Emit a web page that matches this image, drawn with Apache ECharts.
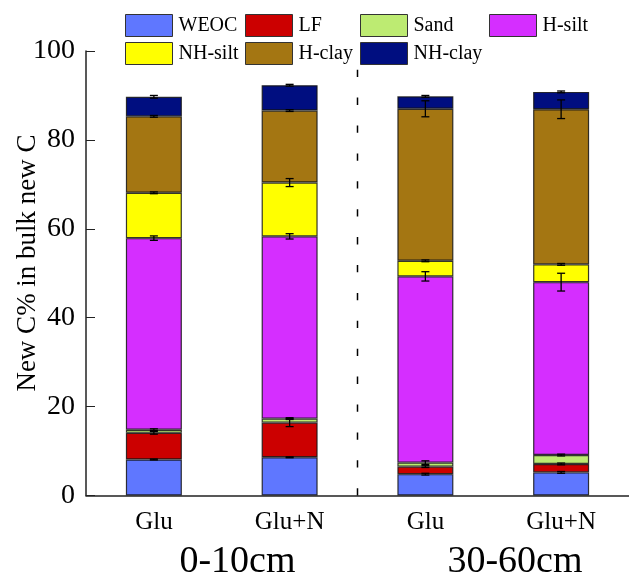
<!DOCTYPE html>
<html>
<head>
<meta charset="utf-8">
<script src="https://cdn.jsdelivr.net/npm/echarts@6/dist/echarts.min.js"></script>
<style>html,body{margin:0;padding:0;background:#fff}#c{width:629px;height:577px}</style>
</head>
<body>
<div id="c"></div>
<script>
// ---- data ----
var categories = ['Glu', 'Glu+N', 'Glu', 'Glu+N'];
var depthLabels = ['0-10cm', '30-60cm'];
var seriesNames = ['WEOC', 'LF', 'Sand', 'H-silt', 'NH-silt', 'H-clay', 'NH-clay'];
var WEOC    = [8.1, 8.6, 4.8, 5.2];
var LF      = [6.0, 7.8, 1.7, 1.9];
var Sand    = [0.7, 0.9, 0.9, 2.0];
var Hsilt   = [43.1, 41.0, 41.9, 38.9];
var NHsilt  = [10.2, 12.1, 3.5, 4.0];
var Hclay   = [17.2, 16.2, 34.2, 34.9];
var NHclay  = [4.4, 5.7, 2.8, 3.9];
var errWEOC   = [0.1, 0.1, 0.2, 0.2];
var errLF     = [0.3, 0.9, 0.2, 0.2];
var errSand   = [0.2, 0.2, 0.4, 0.2];
var errHsilt  = [0.5, 0.6, 1.05, 2.0];
var errNHsilt = [0.2, 0.9, 0.2, 0.2];
var errHclay  = [0.2, 0.2, 1.8, 2.1];
var errNHclay = [0.3, 0.2, 0.2, 0.2];
var yTicks = [0, 20, 40, 60, 80, 100];

var values = [WEOC, LF, Sand, Hsilt, NHsilt, Hclay, NHclay];
var errors = [errWEOC, errLF, errSand, errHsilt, errNHsilt, errHclay, errNHclay];
var colors = ['#5f77ff', '#cc0000', '#bdeb72', '#d52eff', '#ffff00', '#a47612', '#000e80'];
var FONT = 'Liberation Serif, Times New Roman, serif';

// error bar data: [category, cumulative top, err]
var errData = [];
for (var c = 0; c < categories.length; c++) {
  var cum = 0;
  for (var s = 0; s < values.length; s++) {
    cum += values[s][c];
    errData.push([c, cum, errors[s][c]]);
  }
}

var series = seriesNames.map(function (n, i) {
  return {
    name: n, type: 'bar', stack: 'total', barWidth: 56,
    data: values[i],
    itemStyle: { color: colors[i], borderColor: 'rgba(20,20,20,0.85)', borderWidth: 1.2 }
  };
});

series.push({
  type: 'custom', name: 'err', z: 5,
  data: errData,
  renderItem: function (params, api) {
    var x = api.value(0), y = api.value(1), e = api.value(2);
    var hi = api.coord([x, y + e]);
    var lo = api.coord([x, y - e]);
    var w = 4;
    var st = { stroke: '#000', lineWidth: 1.3 };
    return {
      type: 'group',
      children: [
        { type: 'line', shape: { x1: hi[0], y1: hi[1], x2: lo[0], y2: lo[1] }, style: st },
        { type: 'line', shape: { x1: hi[0] - w, y1: hi[1], x2: hi[0] + w, y2: hi[1] }, style: st },
        { type: 'line', shape: { x1: lo[0] - w, y1: lo[1], x2: lo[0] + w, y2: lo[1] }, style: st }
      ]
    };
  }
});

// dashed separator between the two depth groups
series.push({
  type: 'custom', name: 'sep', z: 1,
  data: [[1, 2]],
  renderItem: function (params, api) {
    var a = api.coord([api.value(0), 0]);
    var b = api.coord([api.value(1), 0]);
    var top = api.coord([api.value(0), 100]);
    var xm = (a[0] + b[0]) / 2;
    return {
      type: 'line',
      shape: { x1: xm, y1: a[1], x2: xm, y2: top[1] },
      style: { stroke: '#000', lineWidth: 1.5, lineDash: [7.3, 20.6] }
    };
  }
});

function legendCol(left, names) {
  return {
    orient: 'vertical', left: left, top: 14, padding: 0,
    itemWidth: 47, itemHeight: 22, itemGap: 5, icon: 'rect',
    data: names,
    textStyle: { fontFamily: FONT, fontSize: 20, color: '#000', padding: [0, 0, 0, 1] },
    itemStyle: { borderColor: '#333', borderWidth: 1 }
  };
}

var option = {
  animation: false,
  backgroundColor: '#fff',
  grid: { left: 86, top: 51, width: 552, height: 444.5 },
  legend: [
    legendCol(125, ['WEOC', 'NH-silt']),
    legendCol(245, ['LF', 'H-clay']),
    legendCol(360, ['Sand', 'NH-clay']),
    legendCol(489, ['H-silt'])
  ],
  xAxis: {
    type: 'category', data: categories,
    axisLine: { lineStyle: { color: '#222', width: 1.5 } },
    axisTick: { show: false },
    axisLabel: { fontFamily: FONT, fontSize: 25, color: '#000', margin: 14 }
  },
  yAxis: {
    type: 'value', min: yTicks[0], max: yTicks[yTicks.length - 1], interval: 20,
    splitLine: { show: false },
    axisLine: { show: true, lineStyle: { color: '#222', width: 1.5 } },
    axisTick: { show: true, inside: true, length: 9, lineStyle: { color: '#222', width: 1 } },
    axisLabel: { fontFamily: FONT, fontSize: 28, color: '#000', margin: 11 }
  },
  graphic: [
    { type: 'text', x: 28, y: 263, rotation: Math.PI / 2,
      style: { text: 'New C% in bulk new C', font: '27px ' + FONT, fill: '#000', align: 'center', verticalAlign: 'middle' } },
    { type: 'text', x: 237.5, y: 562,
      style: { text: depthLabels[0], font: '38px ' + FONT, fill: '#000', align: 'center', verticalAlign: 'middle' } },
    { type: 'text', x: 515, y: 562,
      style: { text: depthLabels[1], font: '38px ' + FONT, fill: '#000', align: 'center', verticalAlign: 'middle' } }
  ],
  series: series
};

var chart = echarts.init(document.getElementById('c'), null, { renderer: 'canvas' });
chart.setOption(option);
</script>
</body>
</html>
